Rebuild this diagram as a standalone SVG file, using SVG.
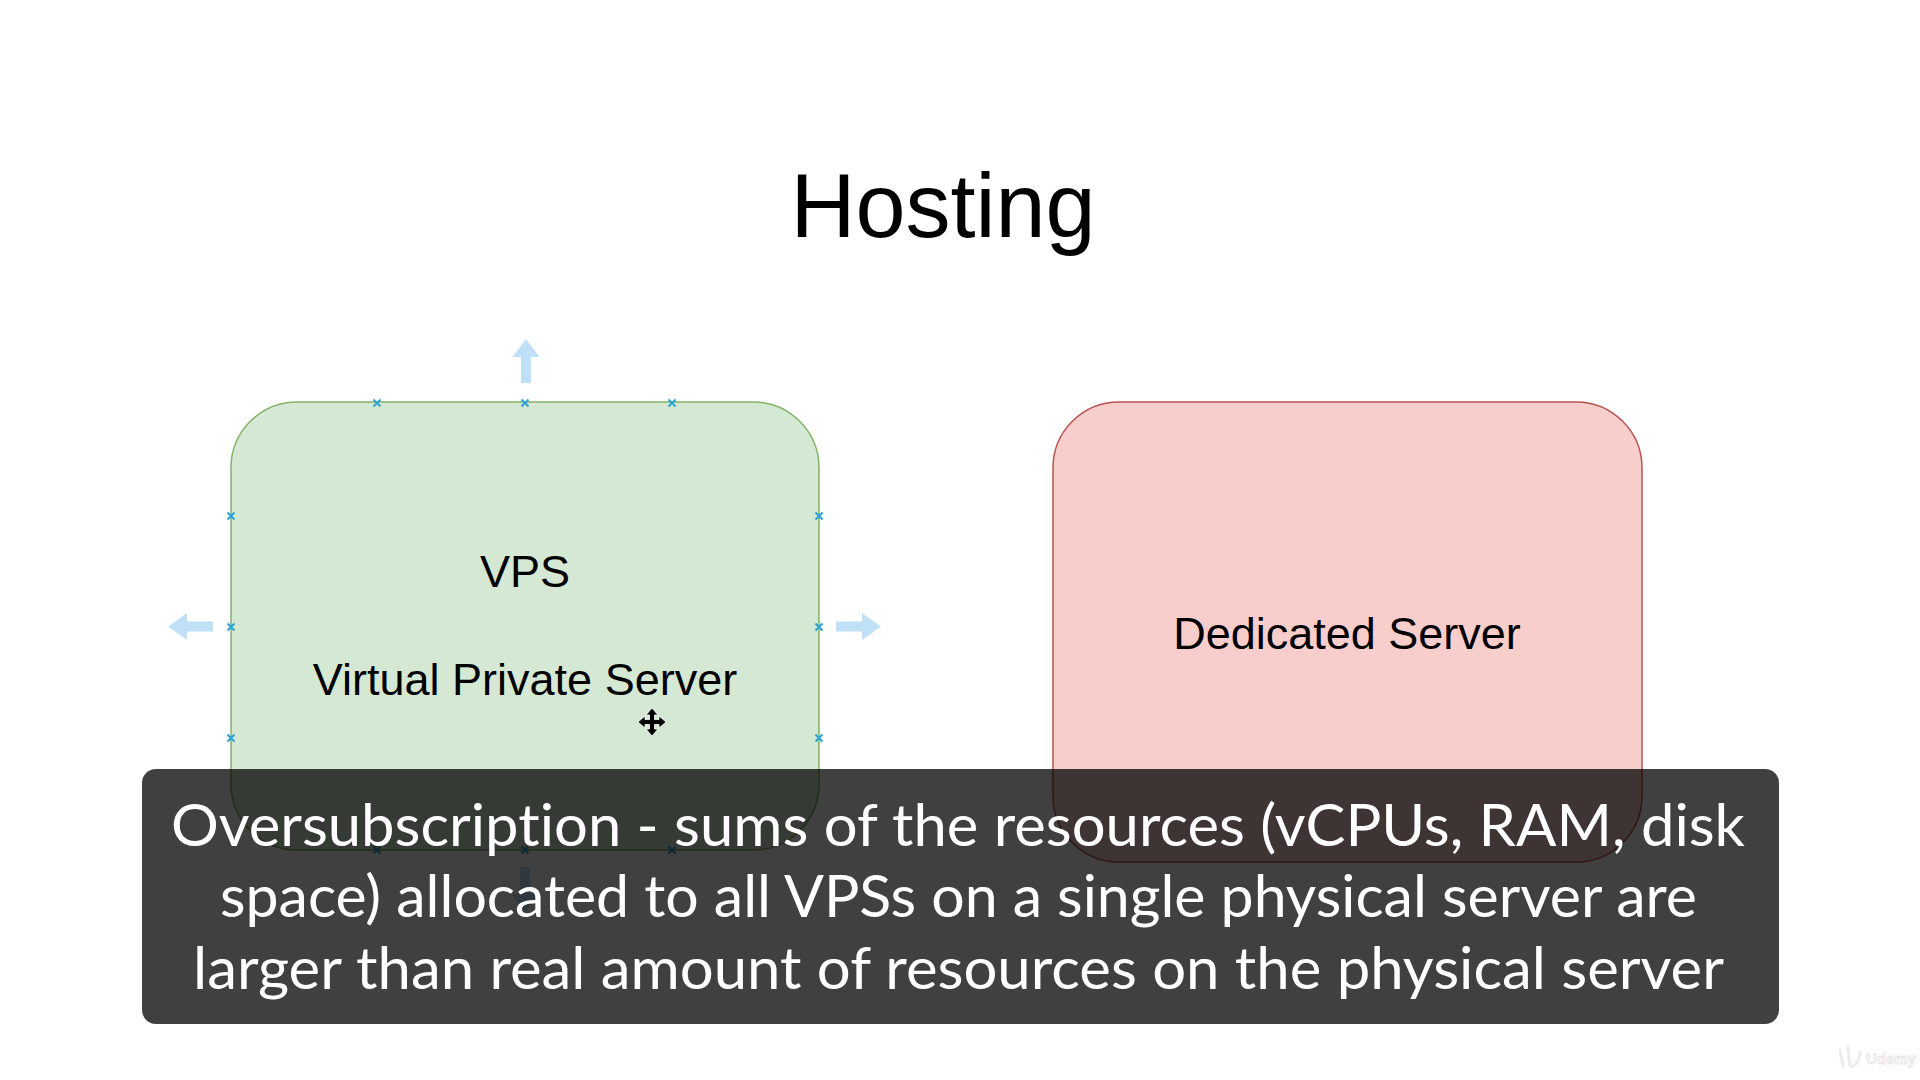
<svg xmlns="http://www.w3.org/2000/svg" width="1920" height="1080" viewBox="0 0 1920 1080">
  <defs>
    <style>
      .lbl { font-family: "Liberation Sans", Arial, Helvetica, sans-serif; fill: #000000; text-anchor: middle; }
      .cap { font-family: Lato, "Open Sans", "Liberation Sans", sans-serif; fill: #ffffff; font-size: 58px; font-variant-ligatures: none; font-feature-settings: "liga" 0; }
      .hdl { stroke: #2ba3d8; stroke-width: 2; fill: none; }
      .hint { fill: #bfe0f6; }
    </style>
    <path id="x" d="M-3.5,-3.5 L3.5,3.5 M-3.5,3.5 L3.5,-3.5"/>
  </defs>
  <rect x="0" y="0" width="1920" height="1080" fill="#ffffff"/>

  <g id="title">
    <text class="lbl" x="943" y="237" font-size="90">Hosting</text>
  </g>

  <g id="hint-arrows">
    <path class="hint" d="M526,339 L539.5,357 L531,357 L531,383 L521,383 L521,357 L512.5,357 Z"/>
    <path class="hint" d="M168,626.5 L187,613 L187,621.5 L213,621.5 L213,631.5 L187,631.5 L187,640 Z"/>
    <path class="hint" d="M881,626.5 L862,613 L862,621.5 L836,621.5 L836,631.5 L862,631.5 L862,640 Z"/>
    <path class="hint" d="M525,912 L511.5,894 L520,894 L520,867 L530,867 L530,894 L538.5,894 Z"/>
  </g>

  <g id="vps">
    <rect x="231" y="402" width="588" height="448" rx="66" ry="66" fill="#d5e8d4" stroke="#82b366" stroke-width="1.5"/>
    <text class="lbl" x="525" y="587" font-size="45">VPS</text>
    <text class="lbl" x="525" y="695" font-size="45">Virtual Private Server</text>
  </g>

  <g id="vps-handles" class="hdl">
    <use href="#x" x="377" y="403"/>
    <use href="#x" x="525" y="403"/>
    <use href="#x" x="672" y="403"/>
    <use href="#x" x="231" y="516"/>
    <use href="#x" x="231" y="627"/>
    <use href="#x" x="231" y="738"/>
    <use href="#x" x="819" y="516"/>
    <use href="#x" x="819" y="627"/>
    <use href="#x" x="819" y="738"/>
    <use href="#x" x="377" y="850"/>
    <use href="#x" x="525" y="850"/>
    <use href="#x" x="672" y="850"/>
  </g>

  <g id="move-cursor" fill="#000000" stroke="#ffffff" stroke-width="0.8">
    <path d="M652,708 L658,715 L654.5,715 L654.5,719.5 L659,719.5 L659,716 L666,722 L659,728 L659,724.5 L654.5,724.5 L654.5,729 L658,729 L652,736 L646,729 L649.5,729 L649.5,724.5 L645,724.5 L645,728 L638,722 L645,716 L645,719.5 L649.5,719.5 L649.5,715 L646,715 Z"/>
  </g>

  <g id="dedicated">
    <rect x="1053" y="402" width="589" height="460" rx="66" ry="66" fill="#f8cecc" stroke="#b85450" stroke-width="1.5"/>
    <text class="lbl" x="1347" y="649" font-size="45">Dedicated Server</text>
  </g>

  <g id="connectors"></g>

  <g id="caption">
    <rect x="142" y="769" width="1637" height="255" rx="14" ry="14" fill="#000000" fill-opacity="0.75"/>
    <text class="cap" x="171" y="846" textLength="1574" lengthAdjust="spacingAndGlyphs">Oversubscription - sums of the resources (vCPUs, RAM, disk</text>
    <text class="cap" x="220" y="917" textLength="1477" lengthAdjust="spacingAndGlyphs">space) allocated to all VPSs on a single physical server are</text>
    <text class="cap" x="193" y="989" textLength="1531" lengthAdjust="spacingAndGlyphs">larger than real amount of resources on the physical server</text>
  </g>

  <g id="watermark" opacity="0.55">
    <path d="M1840,1050 L1843,1066 M1848,1047 L1850,1066 M1850,1066 Q1858,1068 1860,1052" stroke="#dddddd" stroke-width="3" fill="none" stroke-linecap="round"/>
    <text x="1866" y="1064" font-family="Liberation Sans, sans-serif" font-weight="bold" font-size="15" fill="#ffffff" stroke="#cccccc" stroke-width="0.8">Udemy</text>
  </g>
</svg>
